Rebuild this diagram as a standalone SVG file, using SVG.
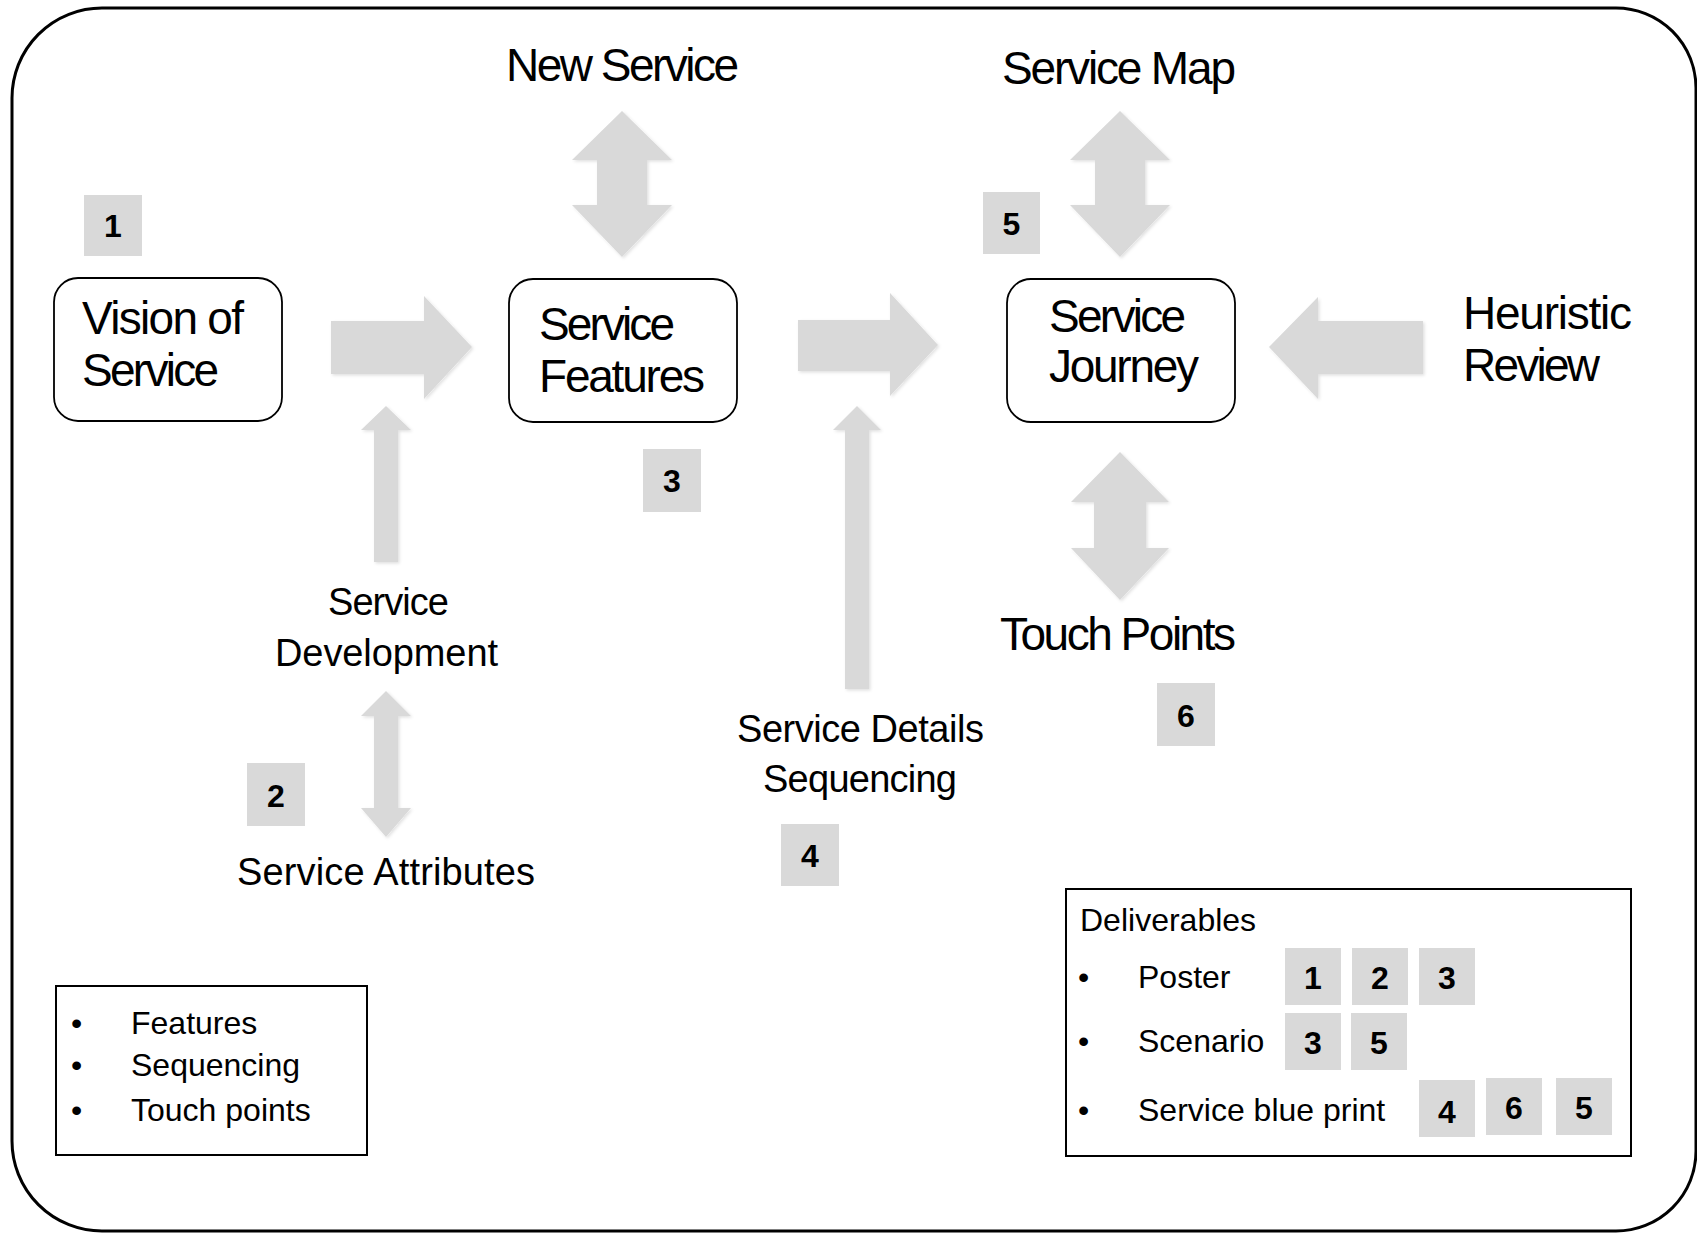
<svg xmlns="http://www.w3.org/2000/svg" width="1697" height="1233" viewBox="0 0 1697 1233">
  <style>
    .frame { fill: #ffffff; stroke: #000000; stroke-width: 3; }
    .node { fill: #ffffff; stroke: #000000; stroke-width: 1.8; }
    .legend { fill: #ffffff; stroke: #000000; stroke-width: 2; }
    .arrow { fill: #d9d9d9; filter: url(#soft); }
    .tag { fill: #d9d9d9; }
    .big { font-family: "Liberation Sans", Arial, sans-serif; font-size: 46px; fill: #000000; }
    .mid { font-family: "Liberation Sans", Arial, sans-serif; font-size: 38px; fill: #000000; }
    .small { font-family: "Liberation Sans", Arial, sans-serif; font-size: 32px; fill: #000000; }
    .num { font-family: "Liberation Sans", Arial, sans-serif; font-size: 32px; font-weight: bold; fill: #000000; text-anchor: middle; }
  </style>
  <defs>
    <filter id="soft" x="-10%" y="-10%" width="120%" height="120%">
      <feDropShadow dx="1.5" dy="1.5" stdDeviation="1.5" flood-color="#000000" flood-opacity="0.12"/>
    </filter>
  </defs>

  <!-- outer rounded frame -->
  <path class="frame" d="M 102,8 L 1616,8 A 80,80 0 0 1 1696,88 L 1696,1151 A 80,80 0 0 1 1616,1231 L 102,1231 A 90,90 0 0 1 12,1141 L 12,98 A 90,90 0 0 1 102,8 Z"/>

  <!-- block arrows -->
  <g id="connectors">
    <polygon class="arrow" points="331,321 424,321 424,296 472,347 424,399 424,374 331,374"/>
    <polygon class="arrow" points="798,320 890,320 890,293 938,345 890,396 890,371 798,371"/>
    <polygon class="arrow" points="1423,321 1318,321 1318,297 1269,347 1318,399 1318,374 1423,374"/>
    <polygon class="arrow" points="622,111 672,160 647,160 647,205 672,205 622,257 572,205 597,205 597,160 572,160"/>
    <polygon class="arrow" points="1120,111 1170,160 1145,160 1145,205 1170,205 1120,257 1070,205 1095,205 1095,160 1070,160"/>
    <polygon class="arrow" points="1120,452 1169,502 1146,502 1146,548 1169,548 1120,600 1071,548 1094,548 1094,502 1071,502"/>
    <polygon class="arrow" points="386,406 411,430 398,430 398,562 374,562 374,430 361,430"/>
    <polygon class="arrow" points="857,406 881,430 869,430 869,689 845,689 845,430 833,430"/>
    <polygon class="arrow" points="386,691 411,716 398,716 398,808 411,808 386,837 361,808 374,808 374,716 361,716"/>
  </g>

  <!-- main process nodes -->
  <g id="node-vision">
    <rect class="node" x="54" y="278" width="228" height="143" rx="24"/>
    <text class="big" x="82" y="334" textLength="162" lengthAdjust="spacing">Vision of</text>
    <text class="big" x="82" y="386" textLength="137" lengthAdjust="spacing">Service</text>
  </g>
  <g id="node-features">
    <rect class="node" x="509" y="279" width="228" height="143" rx="24"/>
    <text class="big" x="539" y="340" textLength="136" lengthAdjust="spacing">Service</text>
    <text class="big" x="539" y="392" textLength="166" lengthAdjust="spacing">Features</text>
  </g>
  <g id="node-journey">
    <rect class="node" x="1007" y="279" width="228" height="143" rx="24"/>
    <text class="big" x="1049" y="332" textLength="137" lengthAdjust="spacing">Service</text>
    <text class="big" x="1049" y="382" textLength="150" lengthAdjust="spacing">Journey</text>
  </g>

  <!-- free labels -->
  <g id="label-new-service">
    <text class="big" x="506" y="81" textLength="233" lengthAdjust="spacing">New Service</text>
  </g>
  <g id="label-service-map">
    <text class="big" x="1002" y="84" textLength="234" lengthAdjust="spacing">Service Map</text>
  </g>
  <g id="label-heuristic">
    <text class="big" x="1463" y="329" textLength="169" lengthAdjust="spacing">Heuristic</text>
    <text class="big" x="1463" y="381" textLength="137" lengthAdjust="spacing">Review</text>
  </g>
  <g id="label-touch-points">
    <text class="big" x="1000" y="650" textLength="236" lengthAdjust="spacing">Touch Points</text>
  </g>
  <g id="label-development">
    <text class="mid" x="328" y="615" textLength="121" lengthAdjust="spacing">Service</text>
    <text class="mid" x="275" y="666" textLength="223" lengthAdjust="spacing">Development</text>
  </g>
  <g id="label-attributes">
    <text class="mid" x="237" y="885" textLength="298" lengthAdjust="spacing">Service Attributes</text>
  </g>
  <g id="label-details">
    <text class="mid" x="737" y="742" textLength="247" lengthAdjust="spacing">Service Details</text>
    <text class="mid" x="763" y="792" textLength="194" lengthAdjust="spacing">Sequencing</text>
  </g>

  <!-- numbered step tags -->
  <g id="tag-1"><rect class="tag" x="84" y="195" width="58" height="61"/><text class="num" x="113" y="237">1</text></g>
  <g id="tag-5"><rect class="tag" x="983" y="192" width="57" height="62"/><text class="num" x="1011.5" y="235">5</text></g>
  <g id="tag-3"><rect class="tag" x="643" y="449" width="58" height="63"/><text class="num" x="672" y="492">3</text></g>
  <g id="tag-2"><rect class="tag" x="247" y="763" width="58" height="63"/><text class="num" x="276" y="807">2</text></g>
  <g id="tag-4"><rect class="tag" x="781" y="824" width="58" height="62"/><text class="num" x="810" y="867">4</text></g>
  <g id="tag-6"><rect class="tag" x="1157" y="683" width="58" height="63"/><text class="num" x="1186" y="727">6</text></g>

  <!-- focus list -->
  <g id="legend-focus">
    <rect class="legend" x="56" y="986" width="311" height="169"/>
    <text class="small" x="71" y="1034">•</text>
    <text class="small" x="131" y="1034">Features</text>
    <text class="small" x="71" y="1076">•</text>
    <text class="small" x="131" y="1076">Sequencing</text>
    <text class="small" x="71" y="1121">•</text>
    <text class="small" x="131" y="1121">Touch points</text>
  </g>

  <!-- deliverables list -->
  <g id="legend-deliverables">
    <rect class="legend" x="1066" y="889" width="565" height="267"/>
    <text class="small" x="1080" y="931">Deliverables</text>
    <text class="small" x="1078" y="988">•</text>
    <text class="small" x="1138" y="988">Poster</text>
    <text class="small" x="1078" y="1052">•</text>
    <text class="small" x="1138" y="1052">Scenario</text>
    <text class="small" x="1078" y="1121">•</text>
    <text class="small" x="1138" y="1121">Service blue print</text>

    <rect class="tag" x="1285" y="948" width="56" height="57"/><text class="num" x="1313" y="989">1</text>
    <rect class="tag" x="1352" y="948" width="56" height="57"/><text class="num" x="1380" y="989">2</text>
    <rect class="tag" x="1419" y="948" width="56" height="57"/><text class="num" x="1447" y="989">3</text>

    <rect class="tag" x="1285" y="1013" width="56" height="57"/><text class="num" x="1313" y="1054">3</text>
    <rect class="tag" x="1351" y="1013" width="56" height="57"/><text class="num" x="1379" y="1054">5</text>

    <rect class="tag" x="1419" y="1080" width="56" height="57"/><text class="num" x="1447" y="1123">4</text>
    <rect class="tag" x="1486" y="1078" width="56" height="57"/><text class="num" x="1514" y="1119">6</text>
    <rect class="tag" x="1556" y="1078" width="56" height="57"/><text class="num" x="1584" y="1119">5</text>
  </g>
</svg>
